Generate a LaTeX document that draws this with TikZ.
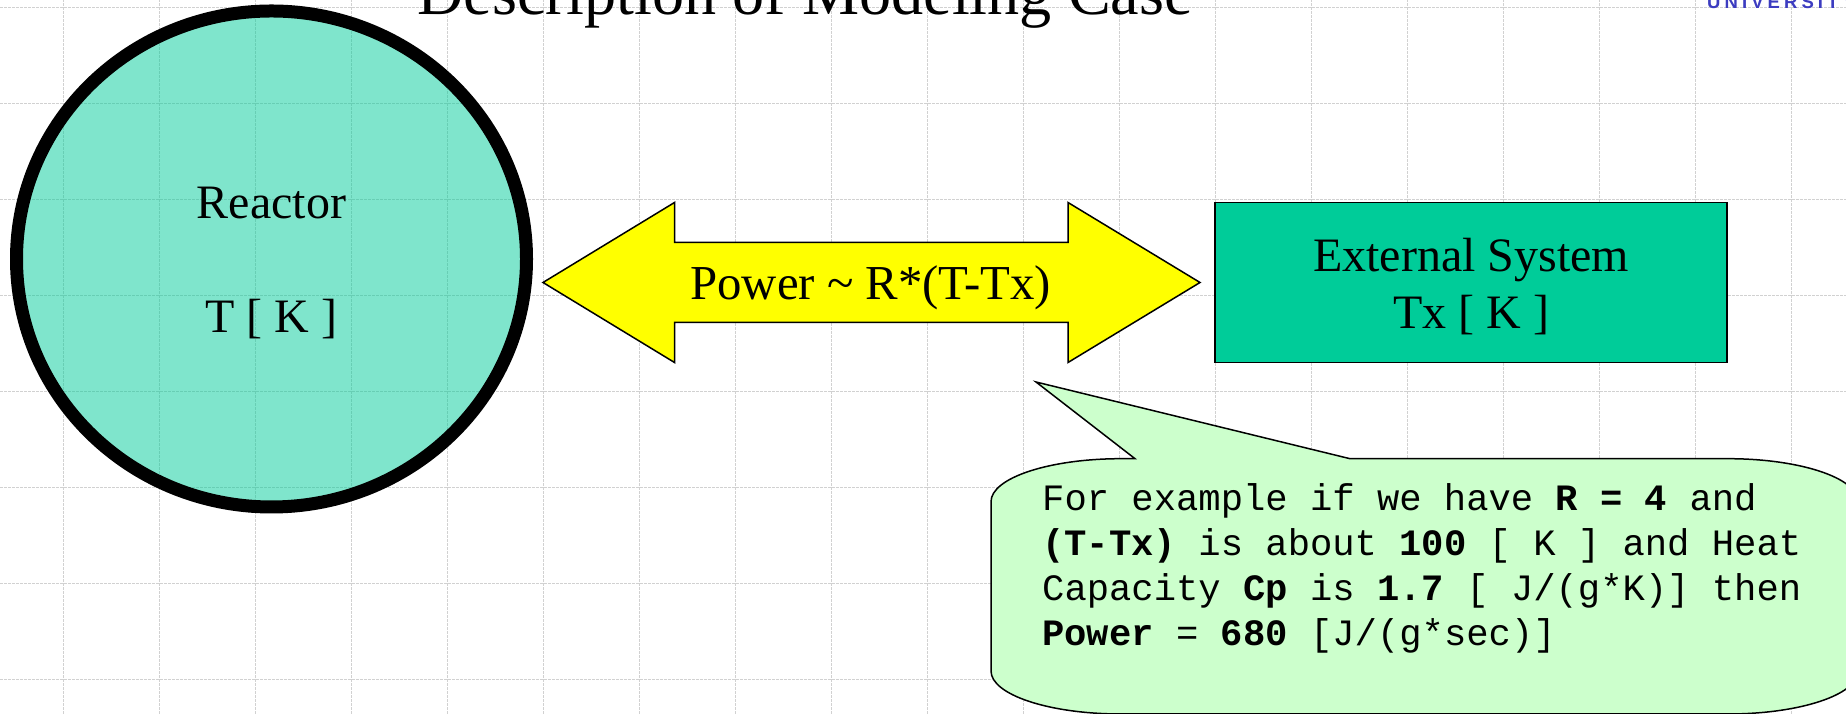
\documentclass[tikz,border=0pt]{standalone}
\usepackage{fontspec}
\setmainfont{Liberation Serif}
\setmonofont{Liberation Mono}
\newfontfamily\logofont[LetterSpace=22]{Liberation Sans}
\usepackage{xcolor}
\usetikzlibrary{positioning, shapes.geometric}

\definecolor{reactorfill}{HTML}{00CC99}
\definecolor{calloutfill}{HTML}{CCFFCC}
\definecolor{arrowfill}{HTML}{FFFF00}
\definecolor{logoblue}{HTML}{3C3CC0}

\begin{document}
\begin{tikzpicture}[
    x=1pt, y=1pt,
    gridline/.style={draw=black!18, line width=1pt, dash pattern=on 3pt off 1pt},
    caption/.style={font=\fontsize{48}{57}\selectfont, align=center, inner sep=0pt, yshift=-4.5pt},
    reactor/.style={draw, ellipse, line width=13pt, fill=reactorfill, fill opacity=0.5, minimum width=510pt, minimum height=496pt, inner sep=0pt},
    powerarrow/.style={draw, line width=1.5pt, fill=arrowfill},
    system/.style={draw, line width=1.5pt, fill=reactorfill, minimum width=512pt, minimum height=160pt, inner sep=0pt},
    callout/.style={draw, line width=1.5pt, fill=calloutfill},
    calltext/.style={inner sep=0pt, align=left, font=\fontsize{37.2}{45}\selectfont\ttfamily}
]
\useasboundingbox (0,0) rectangle (1846,714);
\clip (0,0) rectangle (1846,714);

% Grid
\foreach \i in {0,...,18}
    \draw[gridline] ({63.5+96*\i},0) -- ({63.5+96*\i},714);
\foreach \j in {0,...,7}
    \draw[gridline] (0,{706-96*\j}) -- (1846,{706-96*\j});

% Nodes
\node[anchor=base, font=\fontsize{64.2}{64}\selectfont] (title) at (805,699) {Description of Modeling Case};
\node[anchor=south west, inner sep=0pt, text=logoblue, font=\logofont\bfseries\fontsize{18.5}{18}\selectfont] (logo) at (1707,705.5) {UNIVERSITY};

\node[reactor] (core) at (271.5,455) {};
\node[caption] (coretext) at (core) {Reactor\\[57pt]T [ K ]};

\draw[powerarrow] (543,431.5) -- (674.5,511.5) -- (674.5,471.5) -- (1068,471.5) -- (1068,511.5)
    -- (1200,431.5) -- (1068,351.5) -- (1068,391.5) -- (674.5,391.5) -- (674.5,351.5) -- cycle;
\node[caption, font=\fontsize{48.8}{57}\selectfont] (power) at (870.6,430.5) {Power \textasciitilde{} R*(T-Tx)};

\node[system] (external) at (1471,431.5) {};
\node[caption] (externaltext) at (external) {External System\\Tx [ K ]};

% Callout
\draw[callout] (1036,332) -- (1135,255.3) -- (1121,255.3)
    arc[start angle=90, end angle=180, x radius=130pt, y radius=43pt] -- (991,43)
    arc[start angle=180, end angle=270, x radius=130pt, y radius=43pt] -- (1728,0)
    arc[start angle=270, end angle=360, x radius=130pt, y radius=43pt] -- (1858,212.3)
    arc[start angle=0, end angle=90, x radius=130pt, y radius=43pt] -- (1350,255.3) -- cycle;
\node[calltext, anchor=north west] (example) at (1042,230.5) {For example if we have \textbf{R = 4} and\\
\textbf{(T-Tx)} is about \textbf{100} [ K ] and Heat\\
Capacity \textbf{Cp} is \textbf{1.7} [ J/(g*K)] then\\
\textbf{Power} = \textbf{680} [J/(g*sec)]};

\end{tikzpicture}
\end{document}
